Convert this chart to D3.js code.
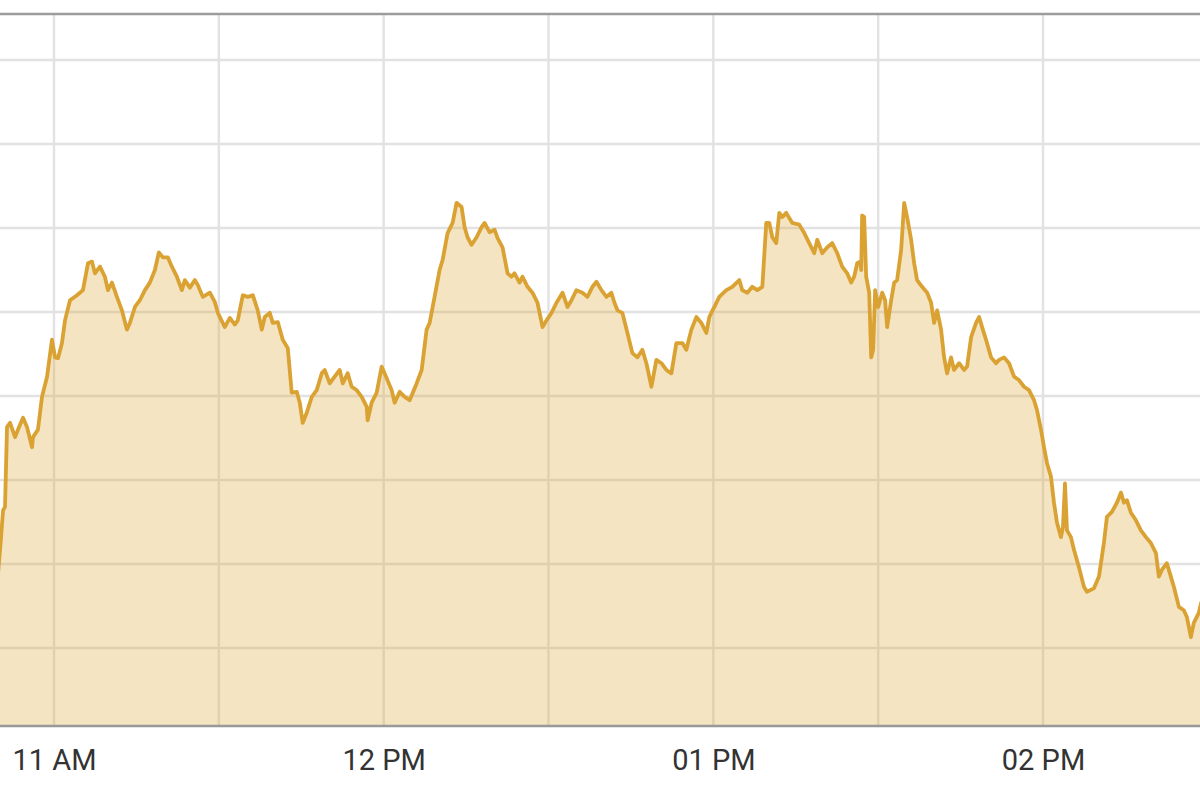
<!DOCTYPE html>
<html>
<head>
<meta charset="utf-8">
<script src="https://cdn.jsdelivr.net/npm/d3@7"></script>
<style>
  html, body { margin: 0; padding: 0; background: #ffffff; }
  svg { display: block; }
  .xaxis text { font-family: Roboto, "Liberation Sans", Arial, sans-serif; font-size: 29px; fill: #333333; }
</style>
</head>
<body>
<svg id="chart" width="1200" height="799"></svg>
<script>
// ---- data ----
const times = [
"10:49:50","10:50:11","10:50:44","10:51:05","10:51:27","10:52:00","10:52:55","10:53:27","10:54:22","10:55:05",
"10:56:00","10:56:11","10:57:05","10:57:49","10:58:44","10:59:38","11:00:11","11:00:44","11:01:27","11:02:00",
"11:02:55","11:04:11","11:05:16","11:06:11","11:06:55","11:07:27","11:08:22","11:09:16","11:09:49","11:10:33",
"11:11:27","11:12:22","11:13:16","11:13:49","11:14:44","11:15:38","11:16:33","11:17:27","11:18:22","11:19:05",
"11:19:49","11:20:44","11:21:27","11:22:22","11:23:16","11:23:49","11:24:44","11:25:38","11:26:11","11:27:05",
"11:28:22","11:29:16","11:29:49","11:31:05","11:32:00","11:32:55","11:33:27","11:34:22","11:35:16","11:36:11",
"11:37:05","11:37:49","11:38:22","11:39:16","11:39:49","11:40:44","11:41:38","11:42:33","11:43:16","11:44:11",
"11:44:44","11:45:16","11:46:00","11:46:55","11:47:49","11:48:44","11:49:16","11:50:11","11:51:05","11:52:00",
"11:52:33","11:53:27","11:54:11","11:55:05","11:56:00","11:56:55","11:57:05","11:57:49","11:58:44","11:59:38",
"12:00:33","12:01:27","12:02:00","12:02:55","12:03:49","12:04:44","12:06:00","12:06:55","12:07:49","12:08:22",
"12:09:16","12:10:11","12:10:44","12:11:38","12:12:33","12:13:16","12:14:11","12:14:44","12:15:16","12:16:00",
"12:16:55","12:17:49","12:18:22","12:19:16","12:20:11","12:20:44","12:21:38","12:22:33","12:23:16","12:23:49",
"12:24:44","12:25:16","12:26:11","12:27:05","12:28:00","12:28:55","12:29:38","12:30:33","12:31:27","12:32:33",
"12:33:27","12:34:11","12:35:05","12:36:11","12:37:05","12:38:00","12:38:44","12:39:38","12:40:33","12:41:27",
"12:42:00","12:42:33","12:43:27","12:44:22","12:45:16","12:46:11","12:47:05","12:47:49","12:48:44","12:49:38",
"12:50:33","12:51:27","12:52:22","12:53:16","12:54:22","12:55:05","12:56:00","12:56:55","12:57:49","12:58:44",
"12:59:16","13:00:11","13:01:05","13:02:22","13:03:27","13:04:44","13:05:16","13:06:11","13:07:05","13:08:00",
"13:08:55","13:09:38","13:10:11","13:10:44","13:11:27","13:12:00","13:12:33","13:13:16","13:14:22","13:15:38",
"13:16:33","13:17:27","13:18:22","13:18:55","13:19:49","13:20:44","13:21:38","13:22:33","13:23:27","13:24:22",
"13:25:05","13:25:38","13:26:11","13:26:44","13:26:55","13:27:05","13:27:27","13:27:49","13:28:22","13:28:44",
"13:29:05","13:29:27","13:30:00","13:30:44","13:31:16","13:31:38","13:32:22","13:32:55","13:33:27","13:34:11",
"13:34:44","13:35:16","13:36:00","13:36:33","13:37:05","13:38:00","13:38:55","13:39:38","13:40:11","13:40:44",
"13:41:27","13:42:00","13:42:33","13:43:16","13:43:49","13:44:44","13:45:38","13:46:11","13:46:55","13:47:49",
"13:48:22","13:48:55","13:49:38","13:50:33","13:51:27","13:52:00","13:52:55","13:53:49","13:54:44","13:55:38",
"13:56:33","13:57:27","13:58:22","13:58:55","13:59:38","14:00:11","14:00:44","14:01:27","14:02:00","14:02:33",
"14:03:16","14:03:38","14:04:00","14:04:22","14:05:05","14:05:38","14:06:33","14:07:27","14:08:00","14:09:16",
"14:10:11","14:11:05","14:11:38","14:12:33","14:13:27","14:14:11","14:14:44","14:15:16","14:16:00","14:16:55",
"14:17:49","14:18:44","14:19:38","14:20:33","14:21:05","14:21:38","14:22:33","14:23:16","14:23:49","14:24:44",
"14:25:38","14:26:11","14:26:55","14:27:27","14:28:22","14:28:50"
];
const prices = [
1290.90,1291.17,1291.64,1291.68,1292.63,1292.68,1292.51,1292.60,1292.74,1292.63,
1292.39,1292.51,1292.60,1292.99,1293.23,1293.67,1293.46,1293.45,1293.63,1293.90,
1294.14,1294.20,1294.26,1294.58,1294.60,1294.46,1294.54,1294.42,1294.26,1294.35,
1294.18,1294.02,1293.79,1293.87,1294.06,1294.14,1294.26,1294.35,1294.50,1294.71,
1294.65,1294.65,1294.54,1294.42,1294.26,1294.38,1294.29,1294.38,1294.32,1294.18,
1294.23,1294.12,1293.99,1293.82,1293.93,1293.85,1293.90,1294.20,1294.18,1294.20,
1294.02,1293.79,1293.94,1293.99,1293.87,1293.88,1293.67,1293.57,1293.04,1293.05,
1292.92,1292.68,1292.80,1292.99,1293.07,1293.27,1293.31,1293.15,1293.23,1293.31,
1293.15,1293.27,1293.11,1293.07,1292.99,1292.87,1292.71,1292.92,1293.04,1293.35,
1293.21,1293.07,1292.92,1293.05,1292.99,1292.95,1293.15,1293.31,1293.79,1293.87,
1294.18,1294.50,1294.62,1294.94,1295.06,1295.30,1295.25,1295.01,1294.89,1294.80,
1294.89,1295.01,1295.06,1294.95,1294.98,1294.88,1294.77,1294.46,1294.42,1294.46,
1294.35,1294.42,1294.30,1294.23,1294.11,1293.82,1293.90,1293.99,1294.11,1294.23,
1294.06,1294.14,1294.26,1294.23,1294.18,1294.30,1294.36,1294.26,1294.18,1294.23,
1294.11,1294.02,1293.99,1293.75,1293.51,1293.46,1293.55,1293.39,1293.11,1293.43,
1293.39,1293.31,1293.27,1293.63,1293.63,1293.55,1293.79,1293.94,1293.87,1293.75,
1293.94,1294.06,1294.18,1294.26,1294.30,1294.38,1294.26,1294.23,1294.30,1294.26,
1294.30,1295.06,1295.06,1294.89,1294.82,1295.18,1295.13,1295.18,1295.06,1295.04,
1294.94,1294.82,1294.70,1294.86,1294.70,1294.77,1294.82,1294.70,1294.54,1294.46,
1294.35,1294.42,1294.58,1294.60,1294.50,1295.15,1295.13,1294.42,1294.23,1293.46,
1293.55,1294.26,1294.06,1294.23,1294.14,1293.82,1294.14,1294.35,1294.38,1294.74,
1295.30,1295.13,1294.86,1294.58,1294.38,1294.30,1294.23,1294.11,1293.87,1294.02,
1293.79,1293.46,1293.27,1293.46,1293.31,1293.39,1293.31,1293.35,1293.70,1293.87,
1293.94,1293.82,1293.67,1293.46,1293.39,1293.43,1293.46,1293.39,1293.23,1293.19,
1293.11,1293.07,1292.95,1292.83,1292.60,1292.39,1292.20,1292.04,1291.73,1291.49,
1291.32,1291.44,1291.96,1291.40,1291.32,1291.17,1290.96,1290.73,1290.67,1290.71,
1290.85,1291.25,1291.56,1291.62,1291.73,1291.85,1291.73,1291.76,1291.61,1291.52,
1291.40,1291.32,1291.25,1291.13,1290.85,1290.93,1291.01,1290.85,1290.73,1290.49,
1290.45,1290.37,1290.13,1290.30,1290.42,1290.55
];
const gridTimes = ["10:30:00","11:00:00","11:30:00","12:00:00","12:30:00","13:00:00","13:30:00","14:00:00","14:30:00"];
const labelTimes = ["11:00:00","12:00:00","13:00:00","14:00:00"];
const yGridValues = [1290,1291,1292,1293,1294,1295,1296,1297];

// ---- drawing ----
const parse = d3.timeParse("%Y-%m-%d %H:%M:%S");
const day = "2019-06-03 ";
const T = s => parse(day + s);
const data = times.map((t, i) => ({ t: T(t), v: prices[i] }));

const svg = d3.select("#chart");
const W = 1200, plotTop = 14, plotBottom = 726;

const x = d3.scaleTime()
  .domain([T("11:00:00"), T("14:00:00")])
  .range([54, 1043]);
const y = d3.scaleLinear()
  .domain([1290, 1297])
  .range([648, 60]);

// horizontal grid
svg.append("g")
  .selectAll("line").data(yGridValues).join("line")
  .attr("x1", 0).attr("x2", W)
  .attr("y1", d => y(d)).attr("y2", d => y(d))
  .attr("stroke", "#e2e2e2").attr("stroke-width", 2.4);

// vertical grid
svg.append("g")
  .selectAll("line").data(gridTimes.map(T)).join("line")
  .attr("x1", d => x(d)).attr("x2", d => x(d))
  .attr("y1", plotTop).attr("y2", plotBottom)
  .attr("stroke", "#e2e2e2").attr("stroke-width", 2.4);

// area
const area = d3.area()
  .x(d => x(d.t))
  .y0(plotBottom)
  .y1(d => y(d.v));
svg.append("path")
  .datum(data)
  .attr("d", area)
  .attr("fill", "#dca634")
  .attr("fill-opacity", 0.3);

// line
const line = d3.line()
  .x(d => x(d.t))
  .y(d => y(d.v));
svg.append("path")
  .datum(data)
  .attr("d", line)
  .attr("fill", "none")
  .attr("stroke", "#daa232")
  .attr("stroke-width", 3.8)
  .attr("stroke-linejoin", "round");

// top border
svg.append("line")
  .attr("x1", 0).attr("x2", W)
  .attr("y1", plotTop).attr("y2", plotTop)
  .attr("stroke", "#9c9c9c").attr("stroke-width", 2.4);

// x axis
const xAxis = d3.axisBottom(x)
  .tickValues(labelTimes.map(T))
  .tickFormat(d3.timeFormat("%I %p"))
  .tickSize(0);
const gx = svg.append("g")
  .attr("class", "xaxis")
  .attr("transform", `translate(0,${plotBottom})`)
  .call(xAxis);
gx.select(".domain").remove();
gx.selectAll("text").attr("dy", 0).attr("y", 44);

svg.append("line")
  .attr("x1", 0).attr("x2", W)
  .attr("y1", plotBottom).attr("y2", plotBottom)
  .attr("stroke", "#999999").attr("stroke-width", 2.6);
</script>
</body>
</html>
